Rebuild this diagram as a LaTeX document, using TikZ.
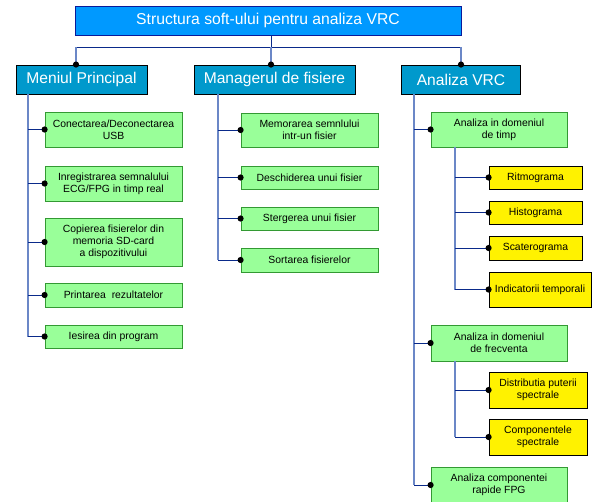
\documentclass[tikz,border=0pt]{standalone}
\usepackage{fontspec}
\setmainfont{Liberation Sans}
\usetikzlibrary{calc}
\definecolor{titlefill}{HTML}{0099FF}
\definecolor{titleborder}{HTML}{0A1A9A}
\definecolor{headfill}{HTML}{0099CC}
\definecolor{greenfill}{HTML}{99FF99}
\definecolor{greenborder}{HTML}{339933}
\definecolor{branchblue}{HTML}{0A2A8A}
\definecolor{spineblue}{HTML}{6B87C7}
\tikzset{
	titlebox/.style={draw=titleborder, fill=titlefill, text=white, line width=0.9pt, inner sep=0pt, minimum height=29pt, font=\fontsize{15.7}{18}\selectfont},
	headbox/.style={draw=black, fill=headfill, text=white, line width=0.9pt, inner sep=0pt, minimum height=29pt, font=\fontsize{15.6}{18}\selectfont},
	greenbox/.style={draw=greenborder, fill=greenfill, line width=0.8pt, inner sep=0pt, align=center, font=\fontsize{10.4}{12}\selectfont},
	yellowbox/.style={draw=black, fill=yellow, line width=0.8pt, inner sep=0pt, align=center, font=\fontsize{10.4}{12}\selectfont},
	branch/.style={draw=branchblue, line width=0.9pt},
	spine/.style={draw=spineblue, line width=1.2pt}
}
\def\knob(#1){\fill (#1) circle (3.1pt);}

\begin{document}
\begin{tikzpicture}[x=1pt, y=-1pt]
			%%%%% START %%%%%
			\clip (0, 0) rectangle (592, 501);
			
			\node[titlebox, minimum width=386pt] (title) at (268, 20.5) {Structura soft-ului pentru analiza VRC};
			
			\node[headbox, minimum width=131pt] (mp) at (81.5, 79.5) {Meniul Principal};
			\node[headbox, minimum width=161pt] (mf) at (274.5, 79.5) {Managerul de fisiere};
			\node[headbox, minimum width=119pt] (av) at (461, 79.5) {Analiza VRC};
			
			% bus under the title
			\coordinate (busL) at (76, 47);
			\coordinate (busM) at (271, 47);
			\coordinate (busR) at (461, 47);
			\draw[branch] (title.south -| busM) -- (busM);
			\draw[branch] (busL) -- (busR);
			\draw[spine] (busL) -- (busL |- mp.north);
			\draw[spine] (busM) -- (busM |- mf.north);
			\draw[spine] (busR) -- (busR |- av.north);
			\knob(busL |- mp.north)
			\knob(busM |- mf.north)
			\knob(busR |- av.north)
			
			% Meniul Principal
			\node[greenbox, minimum width=137pt, minimum height=35pt] (m1) at (113.5, 129.5) {Conectarea/Deconectarea\\USB};
			\node[greenbox, minimum width=137pt, minimum height=35pt] (m2) at (113.5, 183.5) {Inregistrarea semnalului\\ECG/FPG in timp real};
			\node[greenbox, minimum width=137pt, minimum height=48pt] (m3) at (113.5, 242) {Copierea fisierelor din\\memoria SD-card\\a dispozitivului};
			\node[greenbox, minimum width=137pt, minimum height=24pt] (m4) at (113.5, 295) {Printarea\ \ rezultatelor};
			\node[greenbox, minimum width=137pt, minimum height=23pt] (m5) at (113.5, 336.5) {Iesirea din program};
			
			\coordinate (sp1) at (28, 0);
			\draw[spine] (sp1 |- mp.south) -- (sp1 |- m5.west);
			\foreach \n in {m1, m2, m3, m4, m5} {
				\draw[branch] (sp1 |- \n.west) -- (\n.west);
				\knob(\n.west)
			}
			
			% Managerul de fisiere
			\node[greenbox, minimum width=137pt, minimum height=34pt] (f1) at (309.5, 130) {Memorarea semnlului\\intr-un fisier};
			\node[greenbox, minimum width=137pt, minimum height=23pt] (f2) at (309.5, 177.5) {Deschiderea unui fisier};
			\node[greenbox, minimum width=137pt, minimum height=23pt] (f3) at (309.5, 218.5) {Stergerea unui fisier};
			\node[greenbox, minimum width=137pt, minimum height=24pt] (f4) at (309.5, 260) {Sortarea fisierelor};
			
			\coordinate (sp2) at (218, 0);
			\draw[spine] (sp2 |- mf.south) -- (sp2 |- f4.west);
			\foreach \n in {f1, f2, f3, f4} {
				\draw[branch] (sp2 |- \n.west) -- (\n.west);
				\knob(\n.west)
			}
			
			% Analiza VRC
			\node[greenbox, minimum width=136pt, minimum height=35pt] (a1) at (499, 129.5) {Analiza in domeniul\\de timp};
			\node[greenbox, minimum width=136pt, minimum height=36pt] (a2) at (499, 343) {Analiza in domeniul\\de frecventa};
			\node[greenbox, minimum width=136pt, minimum height=36pt] (a3) at (499, 485) {Analiza componentei\\rapide FPG};
			
			\coordinate (sp3) at (414, 0);
			\draw[spine] (sp3 |- av.south) -- (sp3 |- a3.west);
			\foreach \n in {a1, a2, a3} {
				\draw[branch] (sp3 |- \n.west) -- (\n.west);
				\knob(\n.west)
			}
			
			\node[yellowbox, minimum width=93pt, minimum height=23pt] (y1) at (535.5, 177.5) {Ritmograma};
			\node[yellowbox, minimum width=93pt, minimum height=23pt] (y2) at (535.5, 212.5) {Histograma};
			\node[yellowbox, minimum width=93pt, minimum height=24pt] (y3) at (535.5, 248) {Scaterograma};
			\node[yellowbox, minimum width=102pt, minimum height=35pt] (y4) at (540, 289.5) {Indicatorii temporali};
			\node[yellowbox, minimum width=98pt, minimum height=36pt] (y5) at (538, 390) {Distributia puterii\\spectrale};
			\node[yellowbox, minimum width=98pt, minimum height=36pt] (y6) at (538, 437) {Componentele\\spectrale};
			
			\coordinate (sp4) at (455, 0);
			\draw[spine] (sp4 |- a1.south) -- (sp4 |- y4.west);
			\draw[spine] (sp4 |- a2.south) -- (sp4 |- y6.west);
			\foreach \n in {y1, y2, y3, y4, y5, y6} {
				\draw[branch] (sp4 |- \n.west) -- (\n.west);
				\knob(\n.west)
			}
			%%%%% END %%%%%
\end{tikzpicture}
\end{document}
